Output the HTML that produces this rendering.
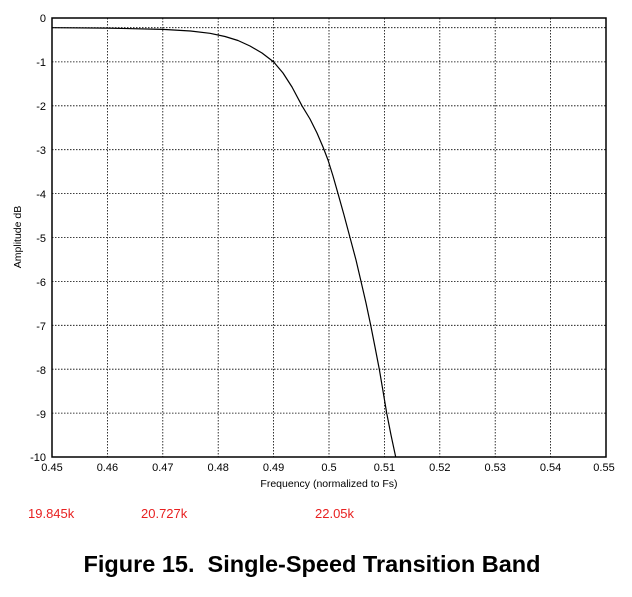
<!DOCTYPE html>
<html><head><meta charset="utf-8"><style>
body{margin:0;background:#fff;width:632px;height:597px;overflow:hidden}
svg{display:block}
</style></head><body>
<svg width="632" height="597" xmlns="http://www.w3.org/2000/svg" font-family="Liberation Sans, sans-serif">
<g stroke="#000" stroke-width="0.8" stroke-dasharray="1.5,1.5">
<line x1="107.4" y1="18" x2="107.4" y2="457"/><line x1="162.8" y1="18" x2="162.8" y2="457"/><line x1="218.2" y1="18" x2="218.2" y2="457"/><line x1="273.6" y1="18" x2="273.6" y2="457"/><line x1="329" y1="18" x2="329" y2="457"/><line x1="384.4" y1="18" x2="384.4" y2="457"/><line x1="439.8" y1="18" x2="439.8" y2="457"/><line x1="495.2" y1="18" x2="495.2" y2="457"/><line x1="550.6" y1="18" x2="550.6" y2="457"/>
<line x1="52" y1="61.9" x2="606" y2="61.9"/><line x1="52" y1="105.8" x2="606" y2="105.8"/><line x1="52" y1="149.7" x2="606" y2="149.7"/><line x1="52" y1="193.6" x2="606" y2="193.6"/><line x1="52" y1="237.5" x2="606" y2="237.5"/><line x1="52" y1="281.4" x2="606" y2="281.4"/><line x1="52" y1="325.3" x2="606" y2="325.3"/><line x1="52" y1="369.2" x2="606" y2="369.2"/><line x1="52" y1="413.1" x2="606" y2="413.1"/>
<line x1="52" y1="27.7" x2="606" y2="27.7"/>
</g>
<rect x="52" y="18" width="554" height="439" fill="none" stroke="#000" stroke-width="1.5"/>
<polyline fill="none" stroke="#000" stroke-width="1.2" stroke-linejoin="round" points="52,27.7 107.4,28.1 162.8,29.4 190.5,31 210,33.3 225,36.5 238,40.5 250,46 262,53 273.6,61.9 283,73 292,87 302,105.8 310,119 317,133 323,147 328,160 333,176 338,193.6 344,215 350,237.5 356,260 361,281.4 366,303 370.7,325.3 375,347 379.3,369.2 383,391 386.7,413.1 391,435 395.7,457"/>
<g font-size="11" text-anchor="end">
<text x="46" y="22">0</text><text x="46" y="66">-1</text><text x="46" y="110">-2</text><text x="46" y="154">-3</text><text x="46" y="198">-4</text><text x="46" y="242">-5</text><text x="46" y="286">-6</text><text x="46" y="330">-7</text><text x="46" y="374">-8</text><text x="46" y="418">-9</text><text x="46" y="461">-10</text>
</g>
<g font-size="11" text-anchor="middle">
<text x="52" y="471">0.45</text><text x="107.4" y="471">0.46</text><text x="162.8" y="471">0.47</text><text x="218.2" y="471">0.48</text><text x="273.6" y="471">0.49</text><text x="329" y="471">0.5</text><text x="384.4" y="471">0.51</text><text x="439.8" y="471">0.52</text><text x="495.2" y="471">0.53</text><text x="550.6" y="471">0.54</text><text x="604" y="471">0.55</text>
<text x="329" y="487" font-size="10.5">Frequency (normalized to Fs)</text>
<text transform="translate(21,237) rotate(-90)" font-size="10.5">Amplitude dB</text>
</g>
<g font-size="13" fill="#e82020">
<text x="28" y="518">19.845k</text><text x="141" y="518">20.727k</text><text x="315" y="518">22.05k</text>
</g>
<text x="312" y="572" font-size="23.5" font-weight="bold" text-anchor="middle">Figure 15.&#160; Single-Speed Transition Band</text>
</svg>
</body></html>
